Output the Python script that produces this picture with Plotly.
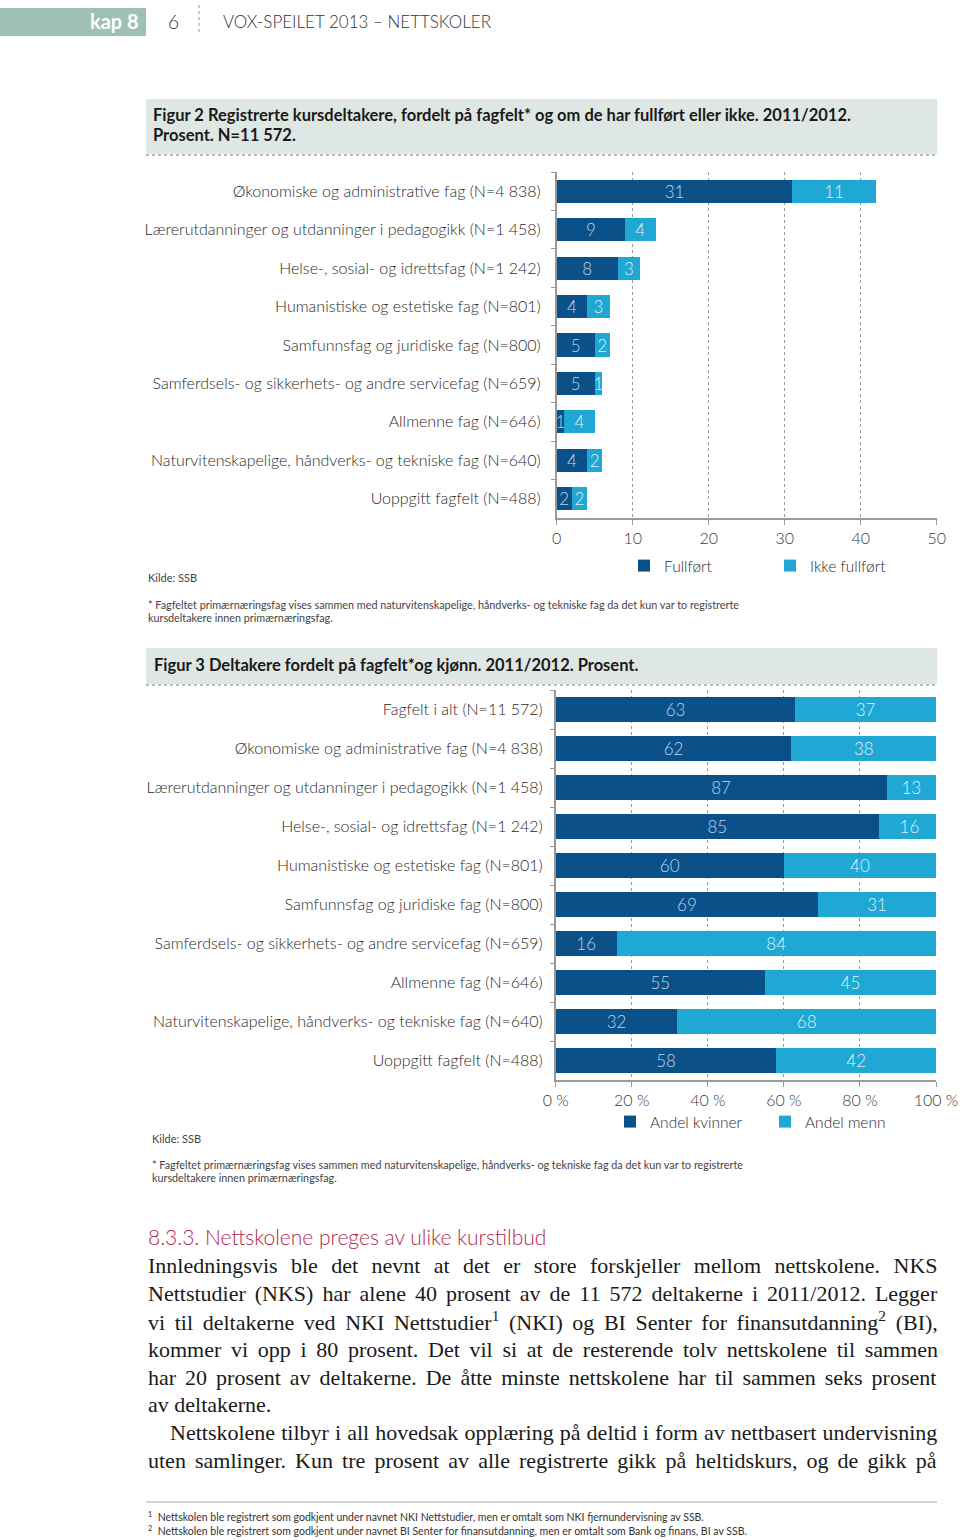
import plotly.graph_objects as go

W, H = 960, 1540
def X(px): return px / W
def Y(py): return 1 - py / H

# ---------------- data ----------------
cats2 = ["Økonomiske og administrative fag (N=4 838)",
         "Lærerutdanninger og utdanninger i pedagogikk (N=1 458)",
         "Helse-, sosial- og idrettsfag (N=1 242)",
         "Humanistiske og estetiske fag (N=801)",
         "Samfunnsfag og juridiske fag (N=800)",
         "Samferdsels- og sikkerhets- og andre servicefag (N=659)",
         "Allmenne fag (N=646)",
         "Naturvitenskapelige, håndverks- og tekniske fag (N=640)",
         "Uoppgitt fagfelt (N=488)"]
fullfort = [31, 9, 8, 4, 5, 5, 1, 4, 2]
ikke_fullfort = [11, 4, 3, 3, 2, 1, 4, 2, 2]
ticks2 = [0, 10, 20, 30, 40, 50]

cats3 = ["Fagfelt i alt (N=11 572)"] + cats2
kvinner = [63, 62, 87, 85, 60, 69, 16, 55, 32, 58]
menn = [37, 38, 13, 16, 40, 31, 84, 45, 68, 42]
ticks3 = [0, 20, 40, 60, 80, 100]
ticks3_text = ["0 %", "20 %", "40 %", "60 %", "80 %", "100 %"]

DARK = "#0b5189"
LIGHT = "#1fa8d3"
FONT = "Lato"
TXT = "#2a2a2a"

fig = go.Figure()

bar_common = dict(orientation="h", textposition="inside", insidetextanchor="middle",
                  constraintext="none", cliponaxis=True, textangle=0,
                  marker_line_width=0, hoverinfo="skip")

fig.add_trace(go.Bar(y=cats2, x=fullfort, name="Fullført", text=fullfort, width=0.6,
                     marker_color=DARK, textfont=dict(color="#bcd4ea", size=17, family=FONT, weight=300),
                     xaxis="x", yaxis="y", legend="legend", **bar_common))
fig.add_trace(go.Bar(y=cats2, x=ikke_fullfort, name="Ikke fullført", text=ikke_fullfort, width=0.6,
                     marker_color=LIGHT, textfont=dict(color="#dff1f9", size=17, family=FONT, weight=300),
                     xaxis="x", yaxis="y", legend="legend", **bar_common))

fig.add_trace(go.Bar(y=cats3, x=kvinner, name="Andel kvinner", text=kvinner, width=0.62,
                     marker_color=DARK, textfont=dict(color="#bcd4ea", size=17, family=FONT, weight=300),
                     xaxis="x2", yaxis="y2", legend="legend2", **bar_common))
fig.add_trace(go.Bar(y=cats3, x=menn, name="Andel menn", text=menn, width=0.62,
                     marker_color=LIGHT, textfont=dict(color="#dff1f9", size=17, family=FONT, weight=300),
                     xaxis="x2", yaxis="y2", legend="legend2", **bar_common))

xaxis_common = dict(showgrid=True, griddash="dot", gridcolor="#9a9a9a", gridwidth=1,
                    showline=True, linecolor="#999999", linewidth=1.5,
                    ticks="outside", ticklen=5, tickcolor="#999999",
                    tickfont=dict(size=16, color="#3a3a3a", family=FONT, weight=300),
                    zeroline=False, fixedrange=True)
yaxis_common = dict(showline=True, linecolor="#999999", linewidth=1.5,
                    ticks="outside", ticklen=4, tickcolor="#999999", tickson="boundaries",
                    tickfont=dict(size=16, color=TXT, family=FONT, weight=300),
                    autorange="reversed", type="category", showgrid=False,
                    fixedrange=True)

legend_common = dict(xanchor="left", yanchor="middle", orientation="h", traceorder="normal",
                     entrywidthmode="pixels", bgcolor="rgba(0,0,0,0)",
                     font=dict(size=15.5, color=TXT, family=FONT, weight=300), itemclick=False)

fig.update_layout(
    width=W, height=H,
    margin=dict(l=0, r=0, t=0, b=0, autoexpand=False),
    paper_bgcolor="white", plot_bgcolor="white",
    barmode="stack", bargap=0.4,
    font=dict(family=FONT, color=TXT),
    showlegend=True,
    xaxis=dict(domain=[X(556.7), X(936.7)], range=[0, 50], tickvals=ticks2,
               anchor="y", **xaxis_common),
    yaxis=dict(domain=[Y(518), Y(172)], anchor="x", ticklabelstandoff=11, **yaxis_common),
    xaxis2=dict(domain=[X(555.7), X(936)], range=[0, 100], tickvals=ticks3,
                ticktext=ticks3_text, anchor="y2", **xaxis_common),
    yaxis2=dict(domain=[Y(1080), Y(690)], anchor="x2", ticklabelstandoff=8, **yaxis_common),
    legend=dict(x=X(624), y=Y(566), entrywidth=101, **legend_common),
    legend2=dict(x=X(610), y=Y(1122), entrywidth=110, **legend_common),
)

shapes = []
annos = []

def txt(x, y, s, size, color=TXT, anchor="left", family=FONT, weight=None):
    f = dict(size=size, color=color, family=family)
    if weight:
        f["weight"] = weight
    annos.append(dict(x=X(x), y=Y(y), xref="paper", yref="paper", text=s, showarrow=False,
                      xanchor=anchor, yanchor="middle", font=f, align="left"))

# header
shapes.append(dict(type="rect", xref="paper", yref="paper", x0=X(0), x1=X(146), y0=Y(36), y1=Y(8),
                   fillcolor="#9fc0b5", line_width=0, layer="below"))
txt(141, 21, "kap 8", 20, color="white", anchor="right", weight="bold")
txt(166, 21, "6", 19, color="#333333", weight=300)
shapes.append(dict(type="line", xref="paper", yref="paper", x0=X(199), x1=X(199), y0=Y(5), y1=Y(35),
                   line=dict(color="#999999", width=1, dash="dot")))
txt(221, 22, "VOX-SPEILET 2013 – NETTSKOLER", 17, color="#333333", weight=300)

# Figure 2 title box
shapes.append(dict(type="rect", xref="paper", yref="paper", x0=X(146), x1=X(937), y0=Y(154), y1=Y(99),
                   fillcolor="#dfe7e4", line_width=0, layer="below"))
shapes.append(dict(type="line", xref="paper", yref="paper", x0=X(146), x1=X(937), y0=Y(155), y1=Y(155),
                   line=dict(color="#777777", width=1, dash="dot")))
txt(151, 115, "Figur 2 Registrerte kursdeltakere, fordelt på fagfelt* og om de har fullført eller ikke. 2011/2012.",
    16.5, color="#1a1a1a", weight="bold")
txt(151, 135, "Prosent. N=11 572.", 16.5, color="#1a1a1a", weight="bold")

txt(146, 578, "Kilde: SSB", 11, color="#444444")
txt(146, 604, "* Fagfeltet primærnæringsfag vises sammen med naturvitenskapelige, håndverks- og tekniske fag da det kun var to registrerte",
    10.8, color="#444444")
txt(146, 617, "kursdeltakere innen primærnæringsfag.", 10.8, color="#444444")

# Figure 3 title box
shapes.append(dict(type="rect", xref="paper", yref="paper", x0=X(146), x1=X(937), y0=Y(684), y1=Y(648),
                   fillcolor="#dfe7e4", line_width=0, layer="below"))
shapes.append(dict(type="line", xref="paper", yref="paper", x0=X(146), x1=X(937), y0=Y(685), y1=Y(685),
                   line=dict(color="#777777", width=1, dash="dot")))
txt(152, 665, "Figur 3 Deltakere fordelt på fagfelt*og kjønn. 2011/2012. Prosent.", 16.5,
    color="#1a1a1a", weight="bold")

txt(150, 1138, "Kilde: SSB", 11, color="#444444")
txt(150, 1164, "* Fagfeltet primærnæringsfag vises sammen med naturvitenskapelige, håndverks- og tekniske fag da det kun var to registrerte",
    10.8, color="#444444")
txt(150, 1177, "kursdeltakere innen primærnæringsfag.", 10.8, color="#444444")

# section text
txt(146, 1236, "8.3.3. Nettskolene preges av ulike kurstilbud", 21, color="#b3294e", weight=300)
body_lines = [
    "Innledningsvis ble det nevnt at det er store forskjeller mellom nettskolene. NKS",
    "Nettstudier (NKS) har alene 40 prosent av de 11 572 deltakerne i 2011/2012. Legger",
    "vi til deltakerne ved NKI Nettstudier<sup>1</sup> (NKI) og BI Senter for finansutdanning<sup>2</sup> (BI),",
    "kommer vi opp i 80 prosent. Det vil si at de resterende tolv nettskolene til sammen",
    "har 20 prosent av deltakerne. De åtte minste nettskolene har til sammen seks prosent",
    "av deltakerne.",
    "Nettskolene tilbyr i all hovedsak opplæring på deltid i form av nettbasert undervisning",
    "uten samlinger. Kun tre prosent av alle registrerte gikk på heltidskurs, og de gikk på",
]
body_x = [146, 146, 146, 146, 146, 146, 168, 146]
body_y = [1265, 1293, 1321, 1349, 1377, 1404, 1432, 1460]
body_wordspacing = [7.9, 3.5, 4.1, 4.2, 3.5, 0, 0.6, 3.6]
for x, y, s, ws in zip(body_x, body_y, body_lines, body_wordspacing):
    txt(x, y, f'<span style="word-spacing:{ws}px">{s}</span>', 22, color="#1a1a1a",
        family="Liberation Serif")

shapes.append(dict(type="line", xref="paper", yref="paper", x0=X(146), x1=X(937), y0=Y(1502), y1=Y(1502),
                   line=dict(color="#aaaaaa", width=1)))
txt(146, 1516, "<sup>1</sup>  Nettskolen ble registrert som godkjent under navnet NKI Nettstudier, men er omtalt som NKI fjernundervisning av SSB.",
    10.5, color="#333333")
txt(146, 1530, "<sup>2</sup>  Nettskolen ble registrert som godkjent under navnet BI Senter for finansutdanning, men er omtalt som Bank og finans, BI av SSB.",
    10.5, color="#333333")

fig.update_layout(shapes=shapes, annotations=annos)
fig.write_html("out.html", config={"displayModeBar": False},
               post_script="document.body.style.margin='0';document.body.style.overflow='hidden';")
